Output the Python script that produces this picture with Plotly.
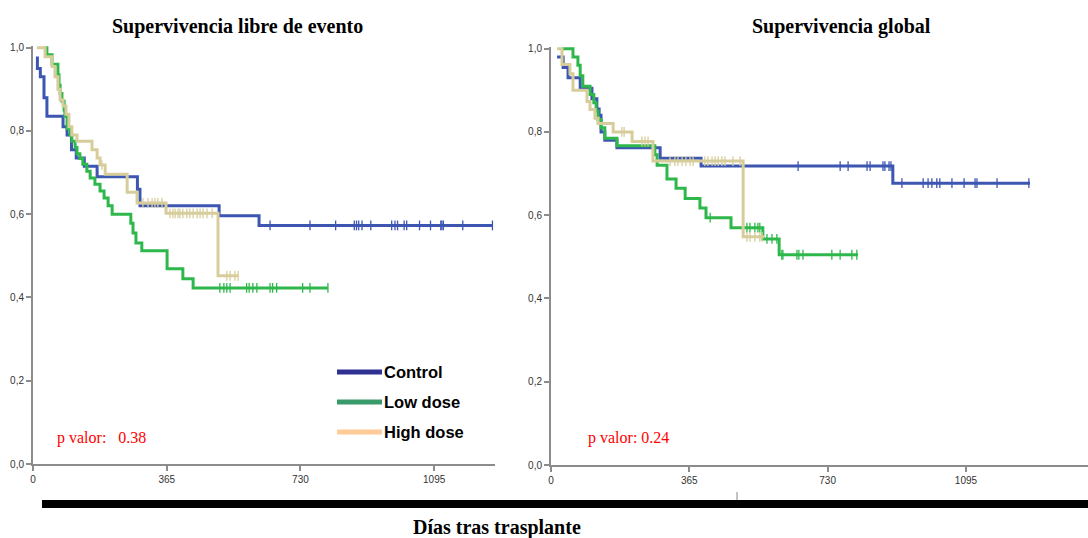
import plotly.graph_objects as go

W, H = 1088, 538

# ---------------- data (days, survival) ----------------
# Event-free survival (left panel)
efs_ctrl_t = [8, 12, 20, 30, 38, 82, 93, 105, 118, 140, 175, 285, 292, 508, 617, 1255]
efs_ctrl_s = [0.975, 0.95, 0.93, 0.88, 0.835, 0.81, 0.79, 0.755, 0.735, 0.715, 0.69, 0.66, 0.62, 0.596, 0.573, 0.573]
efs_ctrl_cens = [647, 756, 826, 877, 883, 889, 898, 922, 979, 988, 995, 1013, 1020, 1055, 1085, 1113, 1116, 1120, 1173, 1254]

efs_low_t = [30, 38, 52, 68, 71, 74, 79, 85, 87, 93, 101, 106, 115, 120, 128, 136, 147, 156, 169, 183, 194,
             205, 216, 267, 273, 281, 297, 366, 409, 437, 805]
efs_low_s = [1.0, 0.983, 0.96, 0.935, 0.91, 0.89, 0.871, 0.85, 0.835, 0.806, 0.79, 0.775, 0.76, 0.745, 0.734,
             0.72, 0.703, 0.687, 0.672, 0.656, 0.639, 0.62, 0.60, 0.578, 0.555, 0.531, 0.512, 0.469, 0.445, 0.423, 0.423]
efs_low_cens = [510, 521, 529, 538, 583, 590, 600, 611, 647, 654, 665, 736, 756, 805]

efs_high_t = [11, 33, 52, 60, 68, 74, 82, 90, 98, 106, 120, 161, 175, 183, 197, 257, 284, 363, 505, 560]
efs_high_s = [1.0, 0.978, 0.955, 0.93, 0.90, 0.875, 0.86, 0.84, 0.81, 0.79, 0.775, 0.755, 0.735, 0.718, 0.696,
              0.653, 0.627, 0.602, 0.452, 0.452]
efs_high_cens = [188, 300, 314, 325, 333, 341, 352, 374, 382, 388, 396, 401, 409, 420, 428, 437, 448, 456, 464,
                 475, 489, 529, 538, 551, 560]

# Overall survival (right panel)
os_ctrl_t = [16, 32, 45, 77, 108, 121, 127, 132, 142, 174, 288, 396, 902, 1264]
os_ctrl_s = [0.98, 0.955, 0.93, 0.905, 0.88, 0.855, 0.84, 0.80, 0.78, 0.762, 0.737, 0.718, 0.677, 0.677]
os_ctrl_cens = [652, 763, 784, 834, 842, 876, 881, 892, 897, 926, 982, 995, 1005, 1018, 1026, 1058, 1090,
                1119, 1124, 1177, 1261]

os_low_t = [30, 58, 71, 77, 84, 103, 113, 119, 124, 132, 142, 174, 274, 280, 306, 330, 354, 393, 409, 475,
            559, 602, 810]
os_low_s = [1.0, 0.98, 0.96, 0.935, 0.91, 0.89, 0.87, 0.85, 0.83, 0.81, 0.785, 0.767, 0.745, 0.72, 0.687,
            0.665, 0.64, 0.617, 0.594, 0.570, 0.543, 0.505, 0.505]
os_low_cens = [420, 517, 525, 538, 546, 551, 570, 583, 596, 609, 612, 649, 654, 665, 741, 763, 794, 807]

os_high_t = [16, 29, 50, 58, 95, 103, 116, 124, 164, 214, 269, 507, 562]
os_high_s = [1.0, 0.962, 0.94, 0.90, 0.873, 0.854, 0.833, 0.82, 0.80, 0.777, 0.73, 0.548, 0.548]
os_high_cens = [187, 193, 240, 248, 256, 314, 327, 335, 346, 356, 367, 375, 406, 414, 425, 433, 441, 451,
                459, 480, 499, 517, 525, 538, 551, 557]

x_ticks = [0, 365, 730, 1095]
y_ticks = [0.0, 0.2, 0.4, 0.6, 0.8, 1.0]
y_tick_labels = ["0,0", "0,2", "0,4", "0,6", "0,8", "1,0"]

series_names = ["Control", "Low dose", "High dose"]
line_colors = ["#3D56B2", "#2EB84C", "#D7CD9B"]
legend_colors = ["#2E3192", "#3A9B6A", "#FFCC99"]

p_values = ["p valor:&nbsp;&nbsp; 0.38", "p valor: 0.24"]
titles = ["Supervivencia libre de evento", "Supervivencia global"]
x_title = "Días tras trasplante"


def step_value(t, s, x):
    v = s[0]
    for ti, si in zip(t, s):
        if ti <= x:
            v = si
        else:
            break
    return v


fig = go.Figure()

panels = [
    ("x", "y", [(efs_ctrl_t, efs_ctrl_s, efs_ctrl_cens), (efs_low_t, efs_low_s, efs_low_cens),
                (efs_high_t, efs_high_s, efs_high_cens)]),
    ("x2", "y2", [(os_ctrl_t, os_ctrl_s, os_ctrl_cens), (os_low_t, os_low_s, os_low_cens),
                  (os_high_t, os_high_s, os_high_cens)]),
]

for xa, ya, curves in panels:
    for (t, s, c), name, col in zip(curves, series_names, line_colors):
        fig.add_trace(go.Scatter(x=t, y=s, mode="lines", line=dict(color=col, width=3, shape="hv"),
                                 xaxis=xa, yaxis=ya, showlegend=False, name=name, hoverinfo="skip"))
        fig.add_trace(go.Scatter(x=c, y=[step_value(t, s, ci) for ci in c], mode="markers",
                                 marker=dict(symbol="line-ns", size=7, color=col,
                                             line=dict(color=col, width=1.3)),
                                 xaxis=xa, yaxis=ya, showlegend=False, hoverinfo="skip"))

tickfont = dict(family="Liberation Sans, Arial", size=10, color="#333333")
common_x = dict(showline=True, linecolor="#8C8C8C", linewidth=2, ticks="outside", ticklen=5,
                tickcolor="#8C8C8C", tickwidth=1.5, tickvals=x_ticks, ticktext=[str(v) for v in x_ticks],
                tickfont=tickfont, showgrid=False, zeroline=False, fixedrange=True, automargin=False)
common_y = dict(showline=True, linecolor="#8C8C8C", linewidth=2, ticks="outside", ticklen=5,
                tickcolor="#8C8C8C", tickwidth=1.5, tickvals=y_ticks, ticktext=y_tick_labels,
                tickfont=tickfont, showgrid=False, zeroline=False, range=[0, 1.004], automargin=False)

fig.update_layout(
    width=W, height=H, margin=dict(l=0, r=0, t=0, b=0, pad=0, autoexpand=False),
    paper_bgcolor="white", plot_bgcolor="white", showlegend=False,
    xaxis=dict(domain=[33 / W, 495 / W], range=[0, 1261], anchor="y", **common_x),
    yaxis=dict(domain=[(H - 464) / H, (H - 46) / H], anchor="x", **common_y),
    xaxis2=dict(domain=[551 / W, 1.0], range=[0, 1417], anchor="y2", **common_x),
    yaxis2=dict(domain=[(H - 465) / H, (H - 47) / H], anchor="x2", **common_y),
)

serif = "Liberation Serif, Times New Roman, serif"


def note(x, y, text, font, xanchor="center"):
    return dict(x=x / W, y=1 - y / H, text=text, showarrow=False, xref="paper", yref="paper",
                xanchor=xanchor, yanchor="middle", font=font)


ann = [
    note(237, 26, "<b>%s</b>" % titles[0], dict(family=serif, size=20, color="black")),
    note(841, 26, "<b>%s</b>" % titles[1], dict(family=serif, size=20, color="black")),
    note(497, 527, "<b>%s</b>" % x_title, dict(family=serif, size=20, color="black")),
    note(55, 438, p_values[0], dict(family=serif, size=16, color="#FF0000"), "left"),
    note(586, 438, p_values[1], dict(family=serif, size=16, color="#FF0000"), "left"),
]

shapes = []
for i, (name, col) in enumerate(zip(series_names, legend_colors)):
    yy = 372 + 30 * i
    shapes.append(dict(type="line", xref="paper", yref="paper", x0=337 / W, x1=382 / W,
                       y0=1 - yy / H, y1=1 - yy / H, line=dict(color=col, width=5)))
    ann.append(note(382, yy, "<b>%s</b>" % name, dict(family="Liberation Sans, Arial", size=16.5, color="black"),
                    "left"))

# bottom black bar and small tick
shapes.append(dict(type="rect", xref="paper", yref="paper", x0=42 / W, x1=1.0, y0=1 - 508 / H, y1=1 - 500 / H,
                   fillcolor="black", line=dict(width=0)))
shapes.append(dict(type="line", xref="paper", yref="paper", x0=737 / W, x1=737 / W, y0=1 - 500 / H,
                   y1=1 - 492 / H, line=dict(color="#888888", width=1)))

fig.update_layout(annotations=ann, shapes=shapes)
fig.write_html("out.html")
